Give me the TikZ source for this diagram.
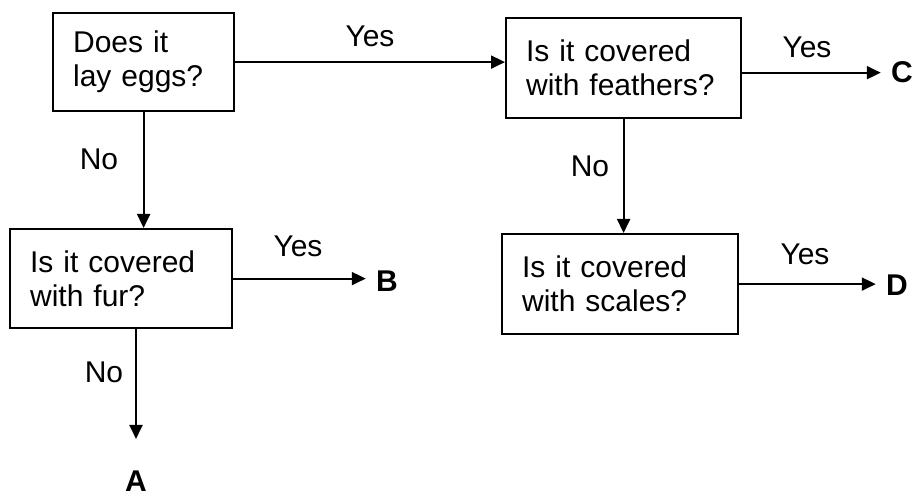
\documentclass[tikz,border=0pt]{standalone}
\usepackage{fontspec}
\setmainfont{Liberation Sans}
\usetikzlibrary{arrows.meta, calc, positioning}
\tikzset{
question/.style={
  draw, rectangle,
  line width=1.1pt,
  align=left,
  inner xsep=10pt,
  anchor=north west,
  font=\fontsize{15}{17}\selectfont
},
answer/.style={anchor=base, font=\fontsize{15}{17}\selectfont},
leaf/.style={anchor=base, inner sep=5pt, font=\fontsize{15}{17}\selectfont\bfseries},
arrow/.style={line width=1pt, -{Triangle[length=7pt,width=6.5pt]}},
}

\begin{document}
\begin{tikzpicture}[x=0.5pt,y=-0.5pt]
        \useasboundingbox (0,0) rectangle (917,497);
        % questions
        \node[question, text width=70.5pt, minimum height=49pt] (q1) at (52,12) {Does it\\lay eggs?};
        \node[question, text width=97.5pt, minimum height=50pt] (q2) at (505,17) {Is it covered\\with feathers?};
        \node[question, text width=91pt, minimum height=49.5pt] (q3) at (9,228) {Is it covered\\with fur?};
        \node[question, text width=98pt, minimum height=50pt] (q4) at (501,233) {Is it covered\\with scales?};

        % outcomes
        \node[leaf] (A) at (136,492) {A};
        \node[leaf] (B) at (387,292) {B};
        \node[leaf] (C) at (902,83) {C};
        \node[leaf] (D) at (897,296) {D};

        % answers
        \node[answer] (y1) at (370,47) {Yes};
        \node[answer] (n1) at (99,170) {No};
        \node[answer] (y2) at (807,58) {Yes};
        \node[answer] (n2) at (590,177) {No};
        \node[answer] (y3) at (298,257) {Yes};
        \node[answer] (n3) at (104,383) {No};
        \node[answer] (y4) at (805,265) {Yes};

        \draw[arrow] (q1.east) -- (q1.east -| q2.west);
        \draw[arrow] (q1.south) -- (q1.south |- q3.north);
        \draw[arrow] (q2.east |- C) -- (C.west);
        \draw[arrow] (q2.south) -- (q2.south |- q4.north);
        \draw[arrow] (q3.east) -- (q3.east -| B.west);
        \draw[arrow, shorten >=11pt] (q3.south -| A) -- (A.north);
        \draw[arrow] (q4.east) -- (q4.east -| D.west);
\end{tikzpicture}
\end{document}
